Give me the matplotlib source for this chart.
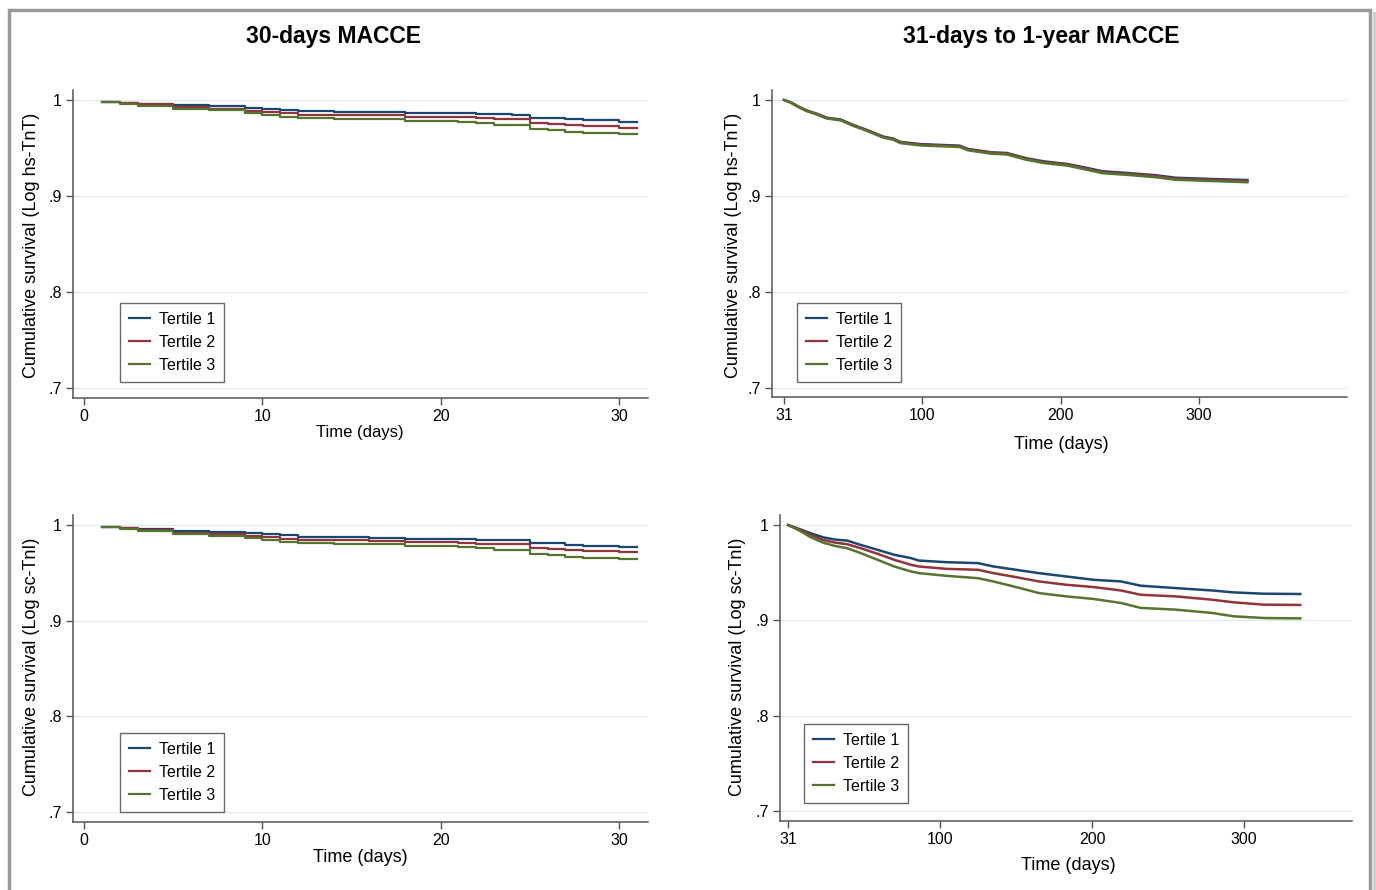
import matplotlib
matplotlib.use("Agg")
import matplotlib.pyplot as plt
from matplotlib.patches import Rectangle
from matplotlib.lines import Line2D

W, H = 1376, 890

# ---- data: 30-day MACCE (days 1..31) ----
days_30 = [1, 2, 3, 5, 7, 9, 10, 11, 12, 14, 16, 18, 21, 22, 23, 24, 25, 26, 27, 28, 30, 31]

hs_t1_30 = [.9982, .9972, .9962, .9945, .9934, .9920, .9910, .9900, .9885, .9878, .9870,
            .9861, .9861, .9850, .9850, .9844, .9816, .9816, .9800, .9788, .9774, .9774]
hs_t2_30 = [.9982, .9969, .9955, .9924, .9910, .9885, .9875, .9861, .9847, .9843, .9840,
            .9826, .9819, .9809, .9800, .9800, .9764, .9754, .9740, .9729, .9712, .9712]
hs_t3_30 = [.9979, .9962, .9941, .9903, .9892, .9861, .9840, .9826, .9812, .9806, .9799,
            .9778, .9771, .9764, .9743, .9743, .9701, .9687, .9670, .9660, .9642, .9642]

sc_t1_30 = [.9983, .9970, .9958, .9940, .9926, .9912, .9902, .9892, .9880, .9873, .9866,
            .9858, .9858, .9848, .9846, .9840, .9810, .9808, .9795, .9784, .9772, .9772]
sc_t2_30 = [.9982, .9967, .9953, .9922, .9908, .9883, .9872, .9858, .9845, .9841, .9838,
            .9824, .9817, .9806, .9797, .9797, .9762, .9752, .9738, .9728, .9714, .9714]
sc_t3_30 = [.9979, .9960, .9940, .9902, .9890, .9860, .9840, .9825, .9811, .9805, .9798,
            .9777, .9770, .9762, .9742, .9742, .9700, .9686, .9670, .9659, .9644, .9644]

# ---- data: 31-days to 1-year (time from day 31) ----
days_yr_hs = [0, 5, 10, 16, 24, 31, 41, 49, 60, 72, 79, 84, 99, 127, 133, 150, 161,
              175, 188, 205, 219, 230, 247, 269, 283, 311, 335]
hs_t1_yr = [1.0, .9975, .9935, .9893, .9855, .9815, .9796, .9746, .9687, .9618, .9598,
            .9563, .9540, .9524, .9490, .9455, .9448, .9394, .9360, .9333, .9292, .9258,
            .9241, .9216, .9190, .9176, .9166]
hs_t2_yr = [1.0, .9973, .9932, .9890, .9852, .9812, .9792, .9742, .9683, .9613, .9593,
            .9558, .9534, .9518, .9484, .9449, .9442, .9387, .9353, .9326, .9284, .9249,
            .9232, .9207, .9181, .9167, .9156]
hs_t3_yr = [1.0, .9971, .9928, .9886, .9847, .9807, .9787, .9737, .9677, .9607, .9586,
            .9551, .9526, .9510, .9476, .9440, .9433, .9378, .9343, .9316, .9273, .9238,
            .9221, .9195, .9169, .9155, .9143]

days_yr_sc = [0, 8, 15, 23, 31, 39, 48, 59, 70, 81, 86, 104, 125, 135, 150, 165, 183,
              201, 219, 232, 255, 279, 293, 313, 337]
sc_t1_yr = [1.0, .9955, .9913, .9871, .9847, .9836, .9790, .9739, .9687, .9652, .9627,
            .9610, .9600, .9565, .9530, .9495, .9460, .9425, .9408, .9363, .9338, .9313,
            .9293, .9279, .9276]
sc_t2_yr = [1.0, .9948, .9896, .9843, .9815, .9798, .9756, .9697, .9634, .9582, .9565,
            .9540, .9530, .9495, .9453, .9408, .9373, .9349, .9313, .9268, .9251, .9216,
            .9189, .9164, .9161]
sc_t3_yr = [1.0, .9937, .9871, .9815, .9780, .9756, .9704, .9634, .9564, .9512, .9495,
            .9467, .9442, .9408, .9349, .9286, .9251, .9224, .9182, .9130, .9112, .9077,
            .9042, .9024, .9020]

labels = ["Tertile 1", "Tertile 2", "Tertile 3"]
colors = ["#1a476f", "#90353b", "#55752f"]
yticks = [0.7, 0.8, 0.9, 1.0]
ytick_labels = [".7", ".8", ".9", "1"]

plt.rcParams['font.family'] = ['Liberation Sans', 'DejaVu Sans']

fig = plt.figure(figsize=(W / 100, H / 100), dpi=100)
fig.patch.set_facecolor("white")


def px_axes(l, t, r, b):
    return fig.add_axes([l / W, 1 - b / H, (r - l) / W, (b - t) / H])


def style(ax, xlim, ylim, xticks, xticklabels, fs):
    ax.set_xlim(*xlim)
    ax.set_ylim(*ylim)
    ax.set_yticks(yticks)
    ax.set_yticklabels(ytick_labels, fontsize=fs)
    ax.set_xticks(xticks)
    ax.set_xticklabels(xticklabels, fontsize=fs)
    for s in ["top", "right"]:
        ax.spines[s].set_visible(False)
    for s in ["left", "bottom"]:
        ax.spines[s].set_color("#555555")
        ax.spines[s].set_linewidth(1.1)
    ax.tick_params(length=5, width=1, color="#555555", pad=3)
    ax.grid(axis="y", color="#e0eaec", lw=0.9)
    ax.set_axisbelow(True)


def draw(ax, t, series, steps=True):
    for vals, c in zip(series, colors):
        if steps:
            ax.step(t, vals, where="post", color=c, lw=1.6)
        else:
            ax.plot(t, vals, color=c, lw=1.8, solid_joinstyle="miter")


def legend(ax, l, t, fs):
    handles = [Line2D([], [], color=c, lw=1.6) for c in colors]
    leg = ax.legend(handles, labels, loc="upper left",
                    bbox_to_anchor=(l / W, 1 - t / H), bbox_transform=fig.transFigure,
                    borderaxespad=0, fancybox=False, fontsize=fs, handlelength=1.3,
                    handletextpad=0.6, labelspacing=0.5, borderpad=0.55)
    leg.get_frame().set_edgecolor("#444444")
    leg.get_frame().set_linewidth(1.0)


# top-left
ax1 = px_axes(73, 90, 648, 398)
style(ax1, (-0.62, 31.63), (0.6896, 1.0104), [0, 10, 20, 30], ["0", "10", "20", "30"], 11.5)
draw(ax1, days_30, [hs_t1_30, hs_t2_30, hs_t3_30])
legend(ax1, 120, 303, 11.5)

# top-right
ax2 = px_axes(772, 90, 1347, 397)
style(ax2, (-8.7, 407), (0.6906, 1.0104), [0, 100, 200, 300], ["31", "100", "200", "300"], 11.5)
draw(ax2, days_yr_hs, [hs_t1_yr, hs_t2_yr, hs_t3_yr], steps=False)
legend(ax2, 797, 303, 11.5)

# bottom-left
ax3 = px_axes(73, 515, 648, 822)
style(ax3, (-0.62, 31.63), (0.6896, 1.0105), [0, 10, 20, 30], ["0", "10", "20", "30"], 11.5)
draw(ax3, days_30, [sc_t1_30, sc_t2_30, sc_t3_30])
legend(ax3, 120, 733, 11.5)

# bottom-right
ax4 = px_axes(780, 515, 1352, 821)
style(ax4, (-5.3, 371), (0.6894, 1.0105), [0, 100, 200, 300], ["31", "100", "200", "300"], 11.5)
draw(ax4, days_yr_sc, [sc_t1_yr, sc_t2_yr, sc_t3_yr], steps=False)
legend(ax4, 804, 724, 11.5)

# titles and axis titles
fig.text(334 / W, 1 - 36 / H, "30-days MACCE", ha="center", va="center",
         fontsize=16.5, fontweight="bold")
fig.text(1041 / W, 1 - 36 / H, "31-days to 1-year MACCE", ha="center", va="center",
         fontsize=16.5, fontweight="bold")

fig.text(360 / W, 1 - 433 / H, "Time (days)", ha="center", va="center", fontsize=12)
fig.text(1061 / W, 1 - 444 / H, "Time (days)", ha="center", va="center", fontsize=13)
fig.text(360 / W, 1 - 858 / H, "Time (days)", ha="center", va="center", fontsize=13)
fig.text(1068 / W, 1 - 866 / H, "Time (days)", ha="center", va="center", fontsize=13)

fig.text(32 / W, 1 - 245 / H, "Cumulative survival (Log hs-TnT)", rotation=90,
         ha="center", va="center", fontsize=13)
fig.text(733 / W, 1 - 245 / H, "Cumulative survival (Log hs-TnT)", rotation=90,
         ha="center", va="center", fontsize=13)
fig.text(32 / W, 1 - 667 / H, "Cumulative survival (Log sc-TnI)", rotation=90,
         ha="center", va="center", fontsize=13)
fig.text(738 / W, 1 - 667 / H, "Cumulative survival (Log sc-TnI)", rotation=90,
         ha="center", va="center", fontsize=13)

# outer frame with a slight shadow on the right
fig.patches.append(Rectangle((1373 / W, -0.1), 3 / W, 1.1 - 12 / H, transform=fig.transFigure,
                             facecolor="#d6cec6", edgecolor="none", zorder=0))
fig.patches.append(Rectangle((9 / W, -0.1), 1361 / W, 1.1 - 9.5 / H, transform=fig.transFigure,
                             fill=False, edgecolor="#9a9a9a", lw=2.5, zorder=0))

fig.savefig("out.png", dpi=100)
